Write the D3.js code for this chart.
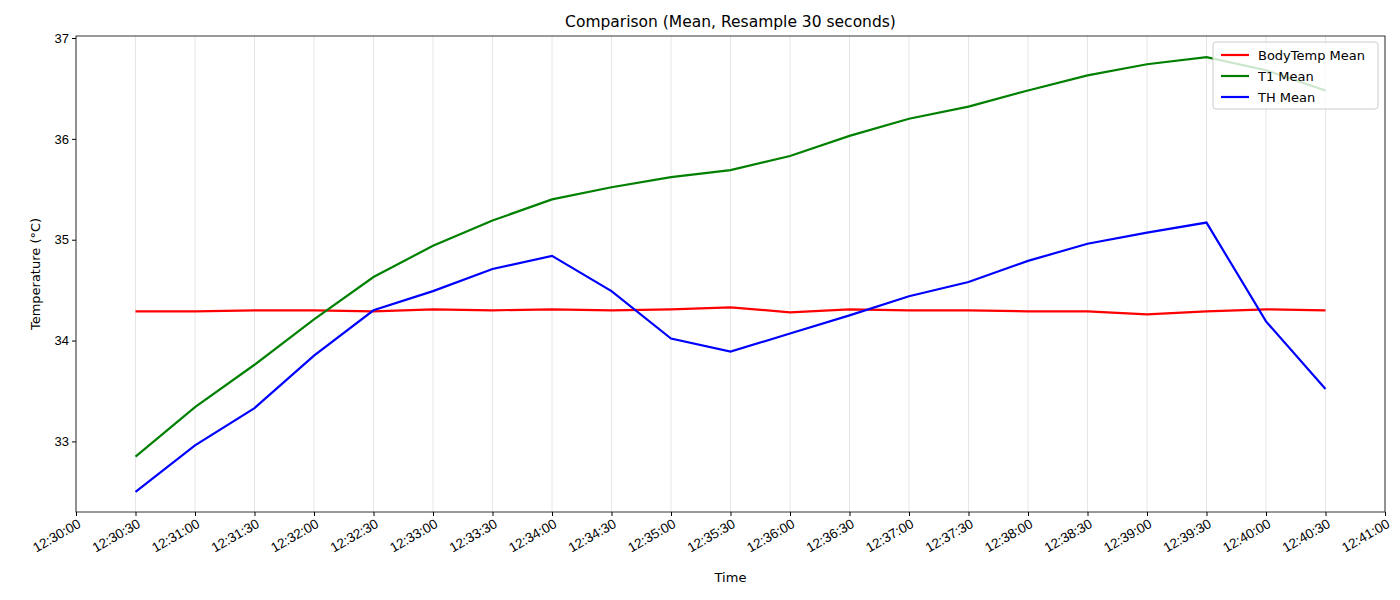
<!DOCTYPE html>
<html><head><meta charset="utf-8">
<script src="https://cdn.jsdelivr.net/npm/d3@7"></script>
<style>body{margin:0;background:#fff;font-family:"DejaVu Sans",sans-serif}</style>
</head><body><div id="chart"></div>
<script>
// Data
var times = ["12:30:30","12:31:00","12:31:30","12:32:00","12:32:30","12:33:00","12:33:30","12:34:00","12:34:30","12:35:00","12:35:30","12:36:00","12:36:30","12:37:00","12:37:30","12:38:00","12:38:30","12:39:00","12:39:30","12:40:00","12:40:30"];
var bodyTemp = [34.29,34.29,34.30,34.30,34.29,34.31,34.30,34.31,34.30,34.31,34.33,34.28,34.31,34.30,34.30,34.29,34.29,34.26,34.29,34.31,34.30];
var t1 = [32.85,33.34,33.76,34.21,34.63,34.94,35.19,35.40,35.52,35.62,35.69,35.83,36.03,36.20,36.32,36.48,36.63,36.74,36.81,36.68,36.48];
var th = [32.50,32.96,33.33,33.85,34.30,34.49,34.71,34.84,34.49,34.02,33.89,34.07,34.25,34.44,34.58,34.79,34.96,35.07,35.17,34.19,33.52];
var series = [
  {name: "BodyTemp Mean", values: bodyTemp, color: "red"},
  {name: "T1 Mean", values: t1, color: "green"},
  {name: "TH Mean", values: th, color: "blue"}
];
var yTicks = [33, 34, 35, 36, 37];

var svgWidth = 1400, svgHeight = 600;
var margin = {top: 36, right: 15, bottom: 88, left: 76};
var width = svgWidth - margin.left - margin.right;
var height = svgHeight - margin.top - margin.bottom;

var parse = d3.timeParse("%H:%M:%S");
var svg = d3.select("#chart").append("svg").attr("width", svgWidth).attr("height", svgHeight);
var chart = svg.append("g").attr("transform", `translate(${margin.left}, ${margin.top})`);

var x = d3.scaleTime().domain([parse("12:30:00"), parse("12:41:00")]).range([0, width]);
var y = d3.scaleLinear().domain([32.30, 37.02]).range([height, 0]);

var xTickVals = d3.timeSecond.every(30).range(parse("12:30:00"), parse("12:41:01"));

// grid
chart.append("g").selectAll("line").data(xTickVals).enter().append("line")
  .attr("x1", d => x(d)).attr("x2", d => x(d)).attr("y1", 0).attr("y2", height)
  .attr("stroke", "#e0e0e0").attr("stroke-width", 0.8);

var xAxis = chart.append("g").attr("transform", `translate(0, ${height})`)
  .call(d3.axisBottom(x).tickValues(xTickVals).tickFormat(d3.timeFormat("%H:%M:%S")).tickSizeOuter(0).tickSize(4));
xAxis.selectAll("text").attr("font-size", 13.5).attr("fill", "#000")
  .attr("text-anchor", "end").attr("dx", "-0.2em").attr("dy", "0.6em")
  .attr("transform", "rotate(-30)");
var yAxis = chart.append("g").call(d3.axisLeft(y).tickValues(yTicks).tickFormat(d3.format("d")).tickSizeOuter(0).tickSize(4));
yAxis.selectAll("text").attr("font-size", 13).attr("fill", "#000");
svg.selectAll(".domain").remove();
chart.append("rect").attr("width", width).attr("height", height).attr("fill", "none").attr("stroke", "#000").attr("stroke-width", 0.8);

var line = d3.line().x((d, i) => x(parse(times[i]))).y(d => y(d));
series.forEach(function (s) {
  chart.append("path").datum(s.values).attr("d", line).attr("fill", "none")
    .attr("stroke", s.color).attr("stroke-width", 2.2);
});

// legend
var lg = chart.append("g").attr("transform", `translate(${width - 172}, 6)`);
lg.append("rect").attr("width", 165).attr("height", 67).attr("rx", 3).attr("fill", "white").attr("fill-opacity", 0.8).attr("stroke", "#ccc");
series.forEach(function (s, i) {
  var g = lg.append("g").attr("transform", `translate(8, ${13 + i * 21})`);
  g.append("line").attr("x1", 0).attr("x2", 28).attr("stroke", s.color).attr("stroke-width", 2.2);
  g.append("text").attr("x", 37).attr("dy", "0.35em").attr("font-size", 13).text(s.name);
});

svg.append("text").attr("x", margin.left + width / 2).attr("y", 27).attr("text-anchor", "middle").attr("font-size", 15.5).text("Comparison (Mean, Resample 30 seconds)");
svg.append("text").attr("x", margin.left + width / 2).attr("y", 582).attr("text-anchor", "middle").attr("font-size", 13).text("Time");
svg.append("text").attr("transform", `translate(40, ${margin.top + height / 2}) rotate(-90)`).attr("text-anchor", "middle").attr("font-size", 13).text("Temperature (°C)");
</script></body></html>
